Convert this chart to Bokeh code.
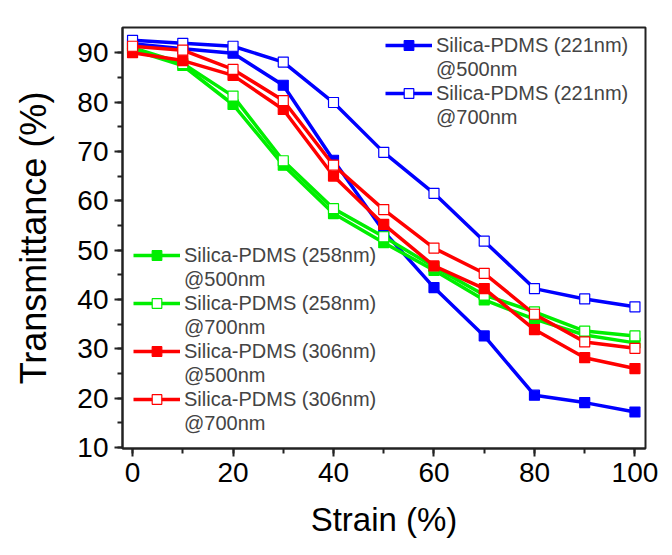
from bokeh.plotting import figure
from bokeh.models import Range1d, Legend, LegendItem, FixedTicker
from bokeh.embed import file_html
from bokeh.resources import INLINE

strain = [0, 10, 20, 30, 40, 50, 60, 70, 80, 90, 100]
blue_500 = [91.8, 90.8, 89.9, 83.4, 68.2, 53.8, 42.4, 32.6, 20.6, 19.1, 17.2]
blue_700 = [92.5, 91.9, 91.3, 88.1, 79.9, 69.8, 61.5, 51.8, 42.2, 40.1, 38.5]
green_500 = [90.6, 87.4, 79.5, 67.2, 57.4, 51.5, 45.9, 39.9, 36.0, 32.8, 31.2]
green_700 = [91.0, 87.8, 81.2, 68.1, 58.4, 52.7, 46.6, 40.9, 37.5, 33.6, 32.6]
red_500 = [90.0, 88.4, 85.4, 78.5, 65.0, 55.2, 46.8, 42.2, 33.9, 28.2, 26.0]
red_700 = [91.3, 90.5, 86.6, 80.3, 67.2, 58.2, 50.4, 45.3, 37.0, 31.4, 30.1]

names = [
    "Silica-PDMS (221nm)", "Silica-PDMS (221nm)",
    "Silica-PDMS (258nm)", "Silica-PDMS (258nm)",
    "Silica-PDMS (306nm)", "Silica-PDMS (306nm)",
]
wavelengths = ["@500nm", "@700nm", "@500nm", "@700nm", "@500nm", "@700nm"]
series = [blue_500, blue_700, green_500, green_700, red_500, red_700]
colors = ["#0000ff", "#0000ff", "#00ee00", "#00ee00", "#ff0000", "#ff0000"]
filled = [True, False, True, False, True, False]

x_ticks = [0, 20, 40, 60, 80, 100]
y_ticks = [10, 20, 30, 40, 50, 60, 70, 80, 90]

FONT = "Liberation Sans"

p = figure(
    frame_width=523, frame_height=421,
    min_border_left=122, min_border_top=27, min_border_right=19, min_border_bottom=99,
    x_range=Range1d(-2, 102.1), y_range=Range1d(9.8, 95.1),
    output_backend="svg", toolbar_location=None,
)
p.grid.visible = False
p.outline_line_color = "#222222"
p.outline_line_width = 2
p.background_fill_color = "white"
p.border_fill_color = "white"

for ax in (p.xaxis[0], p.yaxis[0]):
    ax.axis_line_width = 2
    ax.axis_line_color = "#222222"
    ax.major_tick_line_width = 2
    ax.minor_tick_line_width = 2
    ax.major_tick_line_color = "#222222"
    ax.minor_tick_line_color = "#222222"
    ax.major_tick_out = 8
    ax.major_tick_in = 0
    ax.minor_tick_out = 5
    ax.minor_tick_in = 0
    ax.major_label_text_font = FONT
    ax.major_label_text_font_size = "28px"
    ax.major_label_text_color = "black"
    ax.axis_label_text_font = FONT
    ax.axis_label_text_font_style = "normal"
    ax.axis_label_text_color = "black"

p.xaxis.axis_label_text_font_size = "33px"
p.yaxis.axis_label_text_font_size = "36px"
p.xaxis.ticker = FixedTicker(ticks=x_ticks, minor_ticks=list(range(0, 101, 10)))
p.yaxis.ticker = FixedTicker(ticks=y_ticks, minor_ticks=list(range(10, 95, 5)))
p.xaxis.axis_label = "Strain (%)"
p.yaxis.axis_label = "Transmittance (%)"
p.xaxis.major_label_standoff = 6
p.yaxis.major_label_standoff = 6
p.xaxis.axis_label_standoff = 16
p.yaxis.axis_label_standoff = 20

# invisible renderer used for the second text line of each legend entry
dummy = p.line([], [], line_alpha=0)

items = []
for nm, wl, ys, c, f in zip(names, wavelengths, series, colors, filled):
    r1 = p.line(strain, ys, line_color=c, line_width=3.5)
    r2 = p.scatter(strain, ys, marker="square", size=10,
                   fill_color=c if f else "white", line_color=c, line_width=1.2)
    items.append(LegendItem(label=nm, renderers=[r1, r2]))
    items.append(LegendItem(label=wl, renderers=[dummy]))

common = dict(
    glyph_width=47, glyph_height=24, label_height=24, label_standoff=4,
    spacing=0, padding=0,
    border_line_color=None, background_fill_alpha=0,
    label_text_font=FONT, label_text_font_size="20px", label_text_line_height=1.0,
)
leg1 = Legend(items=items[:4], location=(263, 319), **common)
leg2 = Legend(items=items[4:], location=(11, 13), **common)
p.add_layout(leg1, "center")
p.add_layout(leg2, "center")

open("out.html", "w").write(file_html(p, INLINE))
